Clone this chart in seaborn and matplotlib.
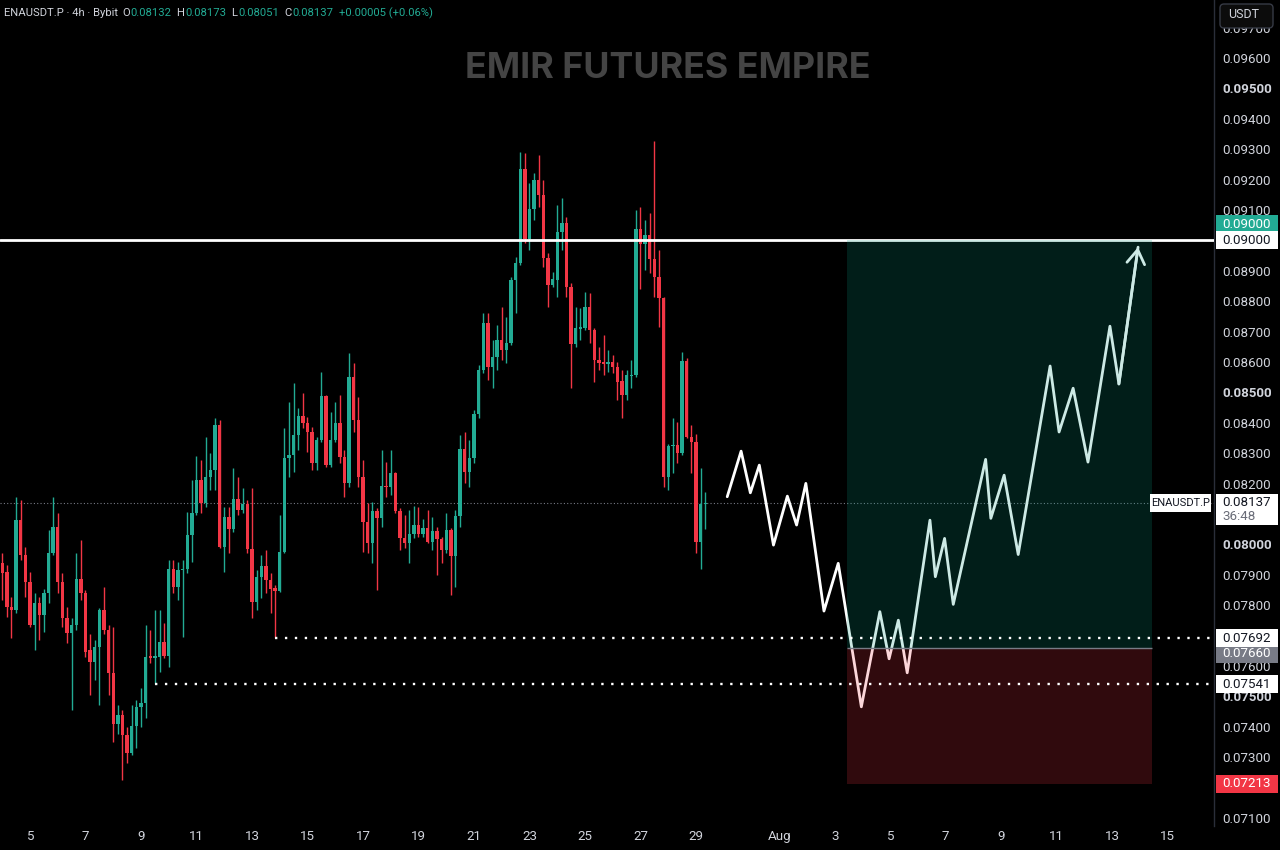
import numpy as np
import pandas as pd
import matplotlib
matplotlib.use("Agg")
import matplotlib.pyplot as plt
import matplotlib.dates as mdates
import matplotlib.transforms as mtransforms
from matplotlib.patches import Rectangle, FancyBboxPatch
import seaborn as sns

# ---------------- data ----------------
symbol = "ENAUSDT.P"
interval = "4h"
exchange = "Bybit"
currency = "USDT"
watermark = "EMIR FUTURES EMPIRE"
countdown = "36:48"
candle_start = "2025-07-04 00:00"

open_ = [
    0.07938, 0.07910, 0.07795, 0.07784, 0.08080, 0.07965, 0.07877, 0.07735, 0.07806, 0.07768,
    0.07839, 0.07971, 0.08058, 0.07877, 0.07757, 0.07709, 0.07735, 0.07888, 0.07839, 0.07652,
    0.07614, 0.07663, 0.07784, 0.07718, 0.07576, 0.07411, 0.07439, 0.07373, 0.07313, 0.07402,
    0.07466, 0.07477, 0.07632, 0.07628, 0.07630, 0.07680, 0.07633, 0.07921, 0.07861, 0.07916,
    0.07921, 0.08031, 0.08102, 0.08212, 0.08135, 0.08223, 0.08245, 0.08393, 0.07992, 0.08091,
    0.08050, 0.08148, 0.08113, 0.08133, 0.07984, 0.07811, 0.07894, 0.07929, 0.07883, 0.07858,
    0.07848, 0.07976, 0.08283, 0.08294, 0.08360, 0.08422, 0.08398, 0.08371, 0.08267, 0.08343,
    0.08488, 0.08261, 0.08343, 0.08398, 0.08289, 0.08201, 0.08552, 0.08409, 0.08223, 0.08075,
    0.08004, 0.08111, 0.08086, 0.08194, 0.08190, 0.08236, 0.08111, 0.08020, 0.08004, 0.08036,
    0.08064, 0.08036, 0.08053, 0.08009, 0.08045, 0.08017, 0.07982, 0.08047, 0.07962, 0.08093,
    0.08313, 0.08239, 0.08283, 0.08429, 0.08574, 0.08727, 0.08585, 0.08617, 0.08672, 0.08640,
    0.08662, 0.08870, 0.08925, 0.09234, 0.09004, 0.09102, 0.09199, 0.09149, 0.08941, 0.08853,
    0.08870, 0.09029, 0.09056, 0.08848, 0.08659, 0.08710, 0.08711, 0.08782, 0.08705, 0.08607,
    0.08600, 0.08593, 0.08601, 0.08585, 0.08538, 0.08491, 0.08555, 0.08557, 0.09037, 0.08988,
    0.09018, 0.08938, 0.08881, 0.08810, 0.08221, 0.08324, 0.08328, 0.08300, 0.08604, 0.08354,
    0.08338, 0.08009, 0.08132]

high = [
    0.07971, 0.07932, 0.07828, 0.08157, 0.08146, 0.07992, 0.07910, 0.07839, 0.07828, 0.07855,
    0.08047, 0.08157, 0.08102, 0.07905, 0.07795, 0.07757, 0.07971, 0.08014, 0.07850, 0.07707,
    0.07685, 0.07790, 0.07861, 0.07735, 0.07729, 0.07472, 0.07455, 0.07400, 0.07472, 0.07488,
    0.07527, 0.07735, 0.07718, 0.07784, 0.07784, 0.07741, 0.07949, 0.07949, 0.07943, 0.07949,
    0.08107, 0.08212, 0.08291, 0.08278, 0.08354, 0.08300, 0.08415, 0.08409, 0.08124, 0.08124,
    0.08250, 0.08223, 0.08185, 0.08146, 0.08185, 0.07916, 0.07965, 0.07982, 0.07905, 0.07866,
    0.08097, 0.08382, 0.08469, 0.08530, 0.08448, 0.08497, 0.08420, 0.08387, 0.08354, 0.08568,
    0.08491, 0.08437, 0.08469, 0.08491, 0.08311, 0.08629, 0.08596, 0.08486, 0.08278, 0.08135,
    0.08140, 0.08119, 0.08311, 0.08272, 0.08311, 0.08239, 0.08119, 0.08097, 0.08113, 0.08126,
    0.08124, 0.08083, 0.08113, 0.08091, 0.08058, 0.08025, 0.08104, 0.08053, 0.08113, 0.08360,
    0.08371, 0.08343, 0.08442, 0.08590, 0.08760, 0.08760, 0.08672, 0.08722, 0.08782, 0.08749,
    0.08881, 0.08946, 0.09292, 0.09289, 0.09188, 0.09221, 0.09281, 0.09199, 0.08958, 0.08897,
    0.09117, 0.09139, 0.09078, 0.08859, 0.08782, 0.08777, 0.08831, 0.08826, 0.08711, 0.08650,
    0.08689, 0.08640, 0.08623, 0.08601, 0.08574, 0.08574, 0.08607, 0.09100, 0.09111, 0.09067,
    0.09089, 0.09327, 0.08968, 0.08815, 0.08330, 0.08415, 0.08404, 0.08634, 0.08612, 0.08393,
    0.08365, 0.08250, 0.08173]

low = [
    0.07817, 0.07762, 0.07691, 0.07773, 0.07949, 0.07828, 0.07729, 0.07652, 0.07685, 0.07713,
    0.07806, 0.07965, 0.07839, 0.07729, 0.07675, 0.07455, 0.07718, 0.07817, 0.07630, 0.07504,
    0.07554, 0.07472, 0.07707, 0.07504, 0.07351, 0.07378, 0.07225, 0.07280, 0.07307, 0.07329,
    0.07400, 0.07428, 0.07610, 0.07541, 0.07581, 0.07626, 0.07598, 0.07839, 0.07817, 0.07696,
    0.07905, 0.07943, 0.08097, 0.08102, 0.08124, 0.08179, 0.08179, 0.07987, 0.07910, 0.07971,
    0.08042, 0.08097, 0.08102, 0.07971, 0.07757, 0.07784, 0.07823, 0.07839, 0.07773, 0.07692,
    0.07844, 0.07971, 0.08223, 0.08239, 0.08311, 0.08382, 0.08305, 0.08245, 0.08245, 0.08338,
    0.08256, 0.08256, 0.08338, 0.08267, 0.08157, 0.08190, 0.08371, 0.08190, 0.07976, 0.07971,
    0.07938, 0.07850, 0.08058, 0.08157, 0.08162, 0.08102, 0.07982, 0.07987, 0.07938, 0.08020,
    0.08025, 0.08025, 0.08004, 0.07982, 0.07899, 0.07938, 0.07971, 0.07833, 0.07861, 0.08058,
    0.08201, 0.08190, 0.08267, 0.08415, 0.08563, 0.08541, 0.08514, 0.08574, 0.08607, 0.08596,
    0.08656, 0.08760, 0.08919, 0.08991, 0.08968, 0.09067, 0.09111, 0.08914, 0.08782, 0.08848,
    0.08815, 0.08968, 0.08815, 0.08514, 0.08650, 0.08672, 0.08705, 0.08662, 0.08535, 0.08574,
    0.08557, 0.08568, 0.08563, 0.08475, 0.08415, 0.08475, 0.08514, 0.08552, 0.08842, 0.08903,
    0.08892, 0.08815, 0.08716, 0.08190, 0.08179, 0.08234, 0.08267, 0.08294, 0.08349, 0.08234,
    0.07971, 0.07921, 0.08051]

close = [
    0.07907, 0.07795, 0.07784, 0.08080, 0.07965, 0.07877, 0.07735, 0.07806, 0.07768, 0.07839,
    0.07971, 0.08058, 0.07877, 0.07757, 0.07709, 0.07735, 0.07888, 0.07839, 0.07647, 0.07614,
    0.07663, 0.07784, 0.07718, 0.07576, 0.07411, 0.07439, 0.07373, 0.07313, 0.07402, 0.07466,
    0.07477, 0.07630, 0.07628, 0.07633, 0.07680, 0.07633, 0.07921, 0.07861, 0.07916, 0.07921,
    0.08031, 0.08102, 0.08212, 0.08135, 0.08223, 0.08245, 0.08393, 0.07992, 0.08091, 0.08050,
    0.08148, 0.08113, 0.08133, 0.07984, 0.07811, 0.07894, 0.07929, 0.07883, 0.07855, 0.07848,
    0.07976, 0.08283, 0.08294, 0.08360, 0.08422, 0.08398, 0.08371, 0.08267, 0.08343, 0.08488,
    0.08261, 0.08343, 0.08398, 0.08289, 0.08201, 0.08552, 0.08409, 0.08223, 0.08075, 0.08004,
    0.08111, 0.08086, 0.08192, 0.08190, 0.08236, 0.08111, 0.08020, 0.08004, 0.08036, 0.08064,
    0.08036, 0.08053, 0.08009, 0.08045, 0.08017, 0.07982, 0.08047, 0.07962, 0.08093, 0.08313,
    0.08239, 0.08283, 0.08429, 0.08574, 0.08727, 0.08585, 0.08617, 0.08672, 0.08640, 0.08662,
    0.08870, 0.08925, 0.09234, 0.09004, 0.09102, 0.09199, 0.09149, 0.08941, 0.08853, 0.08872,
    0.09029, 0.09056, 0.08848, 0.08659, 0.08711, 0.08714, 0.08782, 0.08705, 0.08607, 0.08596,
    0.08593, 0.08601, 0.08585, 0.08535, 0.08491, 0.08557, 0.08559, 0.09037, 0.08988, 0.09018,
    0.08938, 0.08881, 0.08810, 0.08221, 0.08324, 0.08328, 0.08300, 0.08604, 0.08354, 0.08338,
    0.08009, 0.08132, 0.08137]

# hand-drawn projection path
proj_time = [
    "2025-07-30 03:00", "2025-07-30 15:00", "2025-07-30 23:00", "2025-07-31 06:45",
    "2025-07-31 19:00", "2025-08-01 07:00", "2025-08-01 15:00", "2025-08-01 23:00",
    "2025-08-02 14:40", "2025-08-03 03:00", "2025-08-03 23:00", "2025-08-04 15:00",
    "2025-08-04 23:00", "2025-08-05 07:00", "2025-08-05 14:40", "2025-08-06 10:20",
    "2025-08-06 15:00", "2025-08-06 23:00", "2025-08-07 06:30", "2025-08-08 10:30",
    "2025-08-08 15:00", "2025-08-09 02:30", "2025-08-09 14:40", "2025-08-10 18:15",
    "2025-08-11 02:00", "2025-08-11 14:10", "2025-08-12 03:00", "2025-08-12 22:00",
    "2025-08-13 05:45", "2025-08-13 22:20"]
proj_price = [
    0.08157, 0.08307, 0.08170, 0.08261, 0.07998, 0.08159, 0.08064, 0.08201,
    0.07781, 0.07938, 0.07466, 0.07779, 0.07624, 0.07751, 0.07578, 0.08080,
    0.07894, 0.08020, 0.07803, 0.08280, 0.08086, 0.08228, 0.07967, 0.08587,
    0.08370, 0.08514, 0.08271, 0.08718, 0.08528, 0.08978]

# long position tool
target_price = 0.09000
entry_price = 0.07660
stop_price = 0.07213
box_start = "2025-08-03 10:30"
box_end = "2025-08-14 10:20"

# dotted horizontal levels
level_a_price = 0.07692
level_a_start = "2025-07-13 20:00"
level_b_price = 0.07541
level_b_start = "2025-07-09 12:00"

price_ticks = [0.071, 0.072, 0.073, 0.074, 0.075, 0.076, 0.077, 0.078, 0.079, 0.080,
               0.081, 0.082, 0.083, 0.084, 0.085, 0.086, 0.087, 0.088, 0.089, 0.090,
               0.091, 0.092, 0.093, 0.094, 0.095, 0.096, 0.097]
hidden_ticks = [0.072, 0.081, 0.090]   # fully covered by price tags in the reference
time_ticks = ["2025-07-05", "2025-07-07", "2025-07-09", "2025-07-11", "2025-07-13",
              "2025-07-15", "2025-07-17", "2025-07-19", "2025-07-21", "2025-07-23",
              "2025-07-25", "2025-07-27", "2025-07-29", "2025-08-01", "2025-08-03",
              "2025-08-05", "2025-08-07", "2025-08-09", "2025-08-11", "2025-08-13",
              "2025-08-15"]
time_tick_labels = ["5", "7", "9", "11", "13", "15", "17", "19", "21", "23", "25", "27",
                    "29", "Aug", "3", "5", "7", "9", "11", "13", "15"]

# ---------------- style ----------------
BG = "#000000"
GREEN = "#22ab94"
RED = "#f23645"
TXT = "#d1d4dc"
DARK_TXT = "#131722"
W, H = 1280, 850
AX_FS = 9.6

sns.set_theme(style="dark", rc={
    "axes.facecolor": BG, "figure.facecolor": BG, "savefig.facecolor": BG,
    "axes.edgecolor": "#2a2e39", "text.color": TXT,
    "xtick.color": TXT, "ytick.color": TXT, "axes.grid": False})
plt.rcParams["font.family"] = ["Roboto", "DejaVu Sans"]

fig = plt.figure(figsize=(W / 100, H / 100), dpi=100)
ax = fig.add_axes([0, 24 / H, 1214 / W, 826 / H])
px = mtransforms.IdentityTransform()

# candles
t = mdates.date2num(pd.date_range(candle_start, periods=len(open_), freq="4h"))
o = np.array(open_); h = np.array(high); l = np.array(low); c = np.array(close)
col = np.where(c >= o, GREEN, RED)
ax.vlines(t, l, h, colors=col, lw=1.0, zorder=2)
ax.bar(t, np.maximum(np.abs(c - o), 0.00003), bottom=np.minimum(o, c),
       width=4 / 24 * 0.74, color=col, linewidth=0, zorder=2.1)

# axes limits (pixel scale of the reference: 27.75 px / day)
x_left = mdates.date2num(pd.Timestamp(time_ticks[0])) - 30 / 27.75
x_right = x_left + 1214 / 27.75
ax.set_xlim(x_left, x_right)
ax.set_ylim(0.07074, 0.09791)

# current price line
ax.axhline(c[-1], color="#787b86", lw=0.8, ls=(0, (1, 2)), zorder=1.5)

# target line
ax.axhline(target_price, color="white", lw=2, zorder=3)

# projection path
pt = mdates.date2num(pd.to_datetime(proj_time))
sns.lineplot(x=pt, y=proj_price, sort=False, estimator=None, color="white",
             lw=2, ax=ax, zorder=3, legend=False)
ax.annotate("", xy=(pt[-1], proj_price[-1]), xytext=(pt[-2], proj_price[-2]),
            arrowprops=dict(arrowstyle="->,head_length=0.5,head_width=0.32",
                            color="white", lw=2, shrinkA=0, shrinkB=0,
                            mutation_scale=20), zorder=3)

# position box
bx0 = mdates.date2num(pd.Timestamp(box_start))
bx1 = mdates.date2num(pd.Timestamp(box_end))
ax.add_patch(Rectangle((bx0, entry_price), bx1 - bx0, target_price - entry_price,
                       fc="#089981", alpha=0.2, lw=0, zorder=4))
ax.add_patch(Rectangle((bx0, stop_price), bx1 - bx0, entry_price - stop_price,
                       fc=RED, alpha=0.2, lw=0, zorder=4))
ax.hlines(entry_price, bx0, bx1, colors="#787b86", lw=1, zorder=4.5)

# dotted levels
for lvl, start in [(level_a_price, level_a_start), (level_b_price, level_b_start)]:
    ax.hlines(lvl, mdates.date2num(pd.Timestamp(start)), x_right, colors="white",
              lw=1.7, linestyles=[(0, (1, 3.2))], zorder=5)

# ticks
ax.yaxis.tick_right()
ax.set_yticks(price_ticks)
ax.set_yticklabels(["" if any(abs(p - hp) < 1e-9 for hp in hidden_ticks) else f"{p:.5f}"
                    for p in price_ticks])
for lab, p in zip(ax.get_yticklabels(), price_ticks):
    if round(p * 1000) % 5 == 0:
        lab.set_fontweight("bold")
ax.tick_params(axis="y", length=0, pad=6, labelsize=AX_FS, labelcolor=TXT)
ax.set_xticks(mdates.date2num(pd.to_datetime(time_ticks)))
ax.set_xticklabels(time_tick_labels)
ax.tick_params(axis="x", length=0, pad=3, labelsize=AX_FS, labelcolor=TXT)
ax.set_xlabel(""); ax.set_ylabel("")
ax.grid(False)
for s in ["top", "left", "bottom"]:
    ax.spines[s].set_visible(False)
ax.spines["right"].set_color("#2a2e39")
ax.spines["right"].set_linewidth(1)


def ypx(p):
    return ax.transData.transform((x_left, p))[1]


def price_tag(p, fc, tc, dy=0.0):
    y = ypx(p) + dy
    fig.add_artist(Rectangle((1216, y - 9), 62, 18, transform=px, fc=fc, ec="none", zorder=10))
    fig.text(1222, y, f"{p:.5f}", color=tc, fontsize=AX_FS, va="center", ha="left",
             transform=px, zorder=11)


price_tag(target_price, GREEN, "white", dy=16)
price_tag(target_price, "white", DARK_TXT)
price_tag(entry_price, "#787b86", "white", dy=-6)
price_tag(level_a_price, "white", DARK_TXT)
price_tag(level_b_price, "white", DARK_TXT)
price_tag(stop_price, RED, "white")

# last price tag with countdown + symbol tag
yl = ypx(c[-1])
fig.add_artist(Rectangle((1216, yl - 22), 62, 31, transform=px, fc="white", ec="none", zorder=10))
fig.text(1222, yl, f"{c[-1]:.5f}", color=DARK_TXT, fontsize=AX_FS, va="center", ha="left",
         transform=px, zorder=11)
fig.text(1222, yl - 14, countdown, color="#6a6d78", fontsize=AX_FS, va="center", ha="left",
         transform=px, zorder=11)
fig.add_artist(Rectangle((1150, yl - 9), 61, 18, transform=px, fc="white", ec="none", zorder=10))
fig.text(1180.5, yl, symbol, color=DARK_TXT, fontsize=8.0, va="center", ha="center",
         transform=px, zorder=11)

# currency button
fig.add_artist(FancyBboxPatch((1220, 822), 53, 24, boxstyle="round,pad=0,rounding_size=4",
                              transform=px, fc="#0c0c0c", ec="#363a45", lw=1, zorder=10))
fig.text(1244, 835, currency, color=TXT, fontsize=9.0, va="center", ha="center",
         transform=px, zorder=11)

# watermark
fig.text(668, 782, watermark, color="#444444", fontsize=25.8, fontweight="bold",
         ha="center", va="center", family=["Inter", "DejaVu Sans"], transform=px, zorder=1)

# header legend
chg = c[-1] - c[-2]
pct = chg / c[-2] * 100
pieces = [
    (f"{symbol} · {interval} · {exchange}", TXT, 4),
    ("O", TXT, 1), (f"{o[-1]:.5f}", GREEN, 5),
    ("H", TXT, 1), (f"{h[-1]:.5f}", GREEN, 5),
    ("L", TXT, 1), (f"{l[-1]:.5f}", GREEN, 5),
    ("C", TXT, 1), (f"{c[-1]:.5f}", GREEN, 5),
    (f"{chg:+.5f} ({pct:+.2f}%)", GREEN, 0),
]
renderer = fig.canvas.get_renderer()
xcur = 4
for s, colr, gap in pieces:
    tt = fig.text(xcur, 837, s, color=colr, fontsize=8.1, va="center", ha="left",
                  transform=px, zorder=11)
    xcur = tt.get_window_extent(renderer).x1 + gap

fig.savefig("out.png", dpi=100, facecolor=BG)
